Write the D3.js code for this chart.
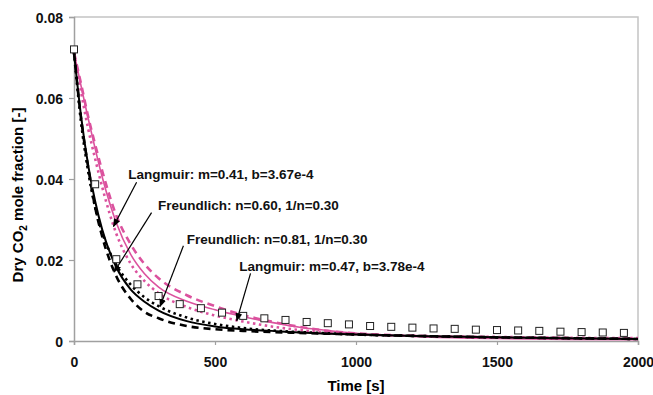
<!DOCTYPE html>
<html>
<head>
<meta charset="utf-8">
<script src="https://cdn.jsdelivr.net/npm/d3@7"></script>
<style>
  body { margin: 0; background: #fff; }
  text { font-family: "Liberation Sans", Arial, sans-serif; font-weight: bold; }
</style>
</head>
<body>
<div id="chart"></div>
<script>
// measured CO2 mole fraction (squares)
var expTime = [0, 75, 150, 225, 300, 375, 450, 525, 600, 675, 750, 825, 900, 975, 1050,
               1125, 1200, 1275, 1350, 1425, 1500, 1575, 1650, 1725, 1800, 1875, 1950]
var expCO2 = [0.0720, 0.0387, 0.0202, 0.0140, 0.0111, 0.0091, 0.0081, 0.0070, 0.0062, 0.0056,
              0.0052, 0.0047, 0.0044, 0.0041, 0.0037, 0.0035, 0.0033, 0.0031, 0.0030, 0.0028,
              0.0027, 0.0026, 0.0025, 0.0023, 0.0022, 0.0021, 0.0020]

// model curves
var modelTime = [0, 25, 50, 75, 100, 150, 200, 250, 300, 400, 500, 600, 700, 800, 900, 1000, 1250, 1500, 1750, 2000]
var blackSolid = [0.0712, 0.0555, 0.0435, 0.0345, 0.0275, 0.0182, 0.0128, 0.0097, 0.0075, 0.0049, 0.0036, 0.0029, 0.0025, 0.0021, 0.0018, 0.0016, 0.0012, 0.0009, 0.0007, 0.0005]
var blackDot   = [0.0712, 0.0540, 0.0420, 0.0330, 0.0268, 0.0188, 0.0140, 0.0108, 0.0086, 0.0058, 0.0042, 0.0032, 0.0026, 0.0022, 0.0019, 0.0016, 0.0012, 0.0009, 0.0007, 0.0005]
var blackDash  = [0.0712, 0.0550, 0.0430, 0.0330, 0.0258, 0.0160, 0.0105, 0.0072, 0.0056, 0.0037, 0.0029, 0.0025, 0.0022, 0.0020, 0.0018, 0.0016, 0.0012, 0.0009, 0.0007, 0.0005]
var pinkSolid  = [0.0712, 0.0630, 0.0550, 0.0475, 0.0405, 0.0292, 0.0215, 0.0166, 0.0133, 0.0098, 0.0077, 0.0060, 0.0046, 0.0034, 0.0026, 0.0019, 0.0010, 0.0006, 0.0004, 0.0003]
var pinkDot    = [0.0712, 0.0615, 0.0525, 0.0450, 0.0380, 0.0265, 0.0192, 0.0148, 0.0118, 0.0084, 0.0063, 0.0048, 0.0036, 0.0027, 0.0021, 0.0017, 0.0012, 0.0010, 0.0008, 0.0007]
var pinkDash   = [0.0712, 0.0635, 0.0555, 0.0485, 0.0420, 0.0310, 0.0240, 0.0190, 0.0155, 0.0113, 0.0086, 0.0064, 0.0048, 0.0035, 0.0025, 0.0019, 0.0012, 0.0009, 0.0007, 0.0006]

var xTicks = [0, 500, 1000, 1500, 2000]
var yTicks = [0, 0.02, 0.04, 0.06, 0.08]

// label text and arrow ends, in data units
var labels = [
  {text: "Langmuir: m=0.41, b=3.67e-4",   t: 192, c: 0.0400, from: [222, 0.0392], to: [140, 0.0283]},
  {text: "Freundlich: n=0.60, 1/n=0.30",  t: 298, c: 0.0324, from: [275, 0.0317], to: [142, 0.0170]},
  {text: "Freundlich: n=0.81, 1/n=0.30",  t: 400, c: 0.0240, from: [388, 0.0235], to: [305, 0.0085]},
  {text: "Langmuir: m=0.47, b=3.78e-4",   t: 586, c: 0.0173, from: [626, 0.0167], to: [577, 0.0050]}
]

var width = 653,
    height = 395
var margin = {top: 17, right: 15, bottom: 54, left: 74}
var pink = "#db529e"

var svg = d3.select("#chart")
  .append("svg")
    .attr("width", width)
    .attr("height", height)

var x = d3.scaleLinear().domain([0, 2000]).range([margin.left, width - margin.right])
var y = d3.scaleLinear().domain([0, 0.08]).range([height - margin.bottom, margin.top])

// plot frame
svg.append("path")
  .attr("d", "M" + x(0) + "," + y(0.08) + "H" + x(2000) + "V" + y(0))
  .attr("fill", "none")
  .attr("stroke", "#c4c4c4")
  .attr("stroke-width", 1.5)

var xAxis = svg.append("g")
  .attr("transform", "translate(0," + y(0) + ")")
  .call(d3.axisBottom(x).tickValues(xTicks).tickSize(4).tickPadding(12).tickFormat(d3.format("d")))
var yAxis = svg.append("g")
  .attr("transform", "translate(" + x(0) + ",0)")
  .call(d3.axisLeft(y).tickValues(yTicks).tickSize(5).tickPadding(6).tickFormat(function(d) { return d === 0 ? "0" : d3.format(".2f")(d) }))

svg.selectAll(".domain").attr("stroke", "#a0a0a0").attr("stroke-width", 1.5)
svg.selectAll(".tick line").attr("stroke", "#a0a0a0").attr("stroke-width", 1.2)
svg.selectAll(".tick text")
  .attr("fill", "#111")
  .style("font-size", "14px")
  .style("font-family", "'Liberation Sans', Arial, sans-serif")
  .style("font-weight", "bold")
yAxis.selectAll(".tick text").attr("dy", "0.36em")

// axis titles
svg.append("text")
  .attr("x", (x(0) + x(2000)) / 2)
  .attr("y", 391)
  .attr("text-anchor", "middle")
  .style("font-size", "15px")
  .text("Time [s]")

var yTitle = svg.append("text")
  .attr("transform", "translate(23," + 195 + ") rotate(-90)")
  .attr("text-anchor", "middle")
  .style("font-size", "15px")
yTitle.append("tspan").text("Dry CO")
yTitle.append("tspan").attr("dy", 4).style("font-size", "10px").text("2")
yTitle.append("tspan").attr("dy", -4).text(" mole fraction [-]")

// model curves
var series = [
  {vals: pinkDot,    color: pink,   w: 2.6, dash: "2.5,3.5"},
  {vals: pinkDash,   color: pink,   w: 2.6, dash: "7,5"},
  {vals: pinkSolid,  color: pink,   w: 1.6, dash: null},
  {vals: blackDot,   color: "#000", w: 2.6, dash: "2.5,3.5"},
  {vals: blackDash,  color: "#000", w: 2.6, dash: "7,5"},
  {vals: blackSolid, color: "#000", w: 2.0, dash: null}
]

var line = d3.line()
  .x(function(d) { return x(d[0]) })
  .y(function(d) { return y(d[1]) })
  .curve(d3.curveMonotoneX)

svg.selectAll(".model")
  .data(series)
  .enter()
  .append("path")
  .attr("class", "model")
  .attr("d", function(s) { return line(d3.zip(modelTime, s.vals)) })
  .attr("fill", "none")
  .attr("stroke", function(s) { return s.color })
  .attr("stroke-width", function(s) { return s.w })
  .attr("stroke-dasharray", function(s) { return s.dash })

// measured squares
svg.selectAll(".pt")
  .data(d3.zip(expTime, expCO2))
  .enter()
  .append("rect")
  .attr("class", "pt")
  .attr("x", function(d) { return x(d[0]) - 3.5 })
  .attr("y", function(d) { return y(d[1]) - 3.5 })
  .attr("width", 7)
  .attr("height", 7)
  .attr("fill", "#fff")
  .attr("stroke", "#222")
  .attr("stroke-width", 1)

// annotations
svg.append("defs").append("marker")
  .attr("id", "head")
  .attr("viewBox", "0 0 10 10")
  .attr("refX", 9).attr("refY", 5)
  .attr("markerWidth", 7).attr("markerHeight", 7)
  .attr("orient", "auto")
  .append("path")
  .attr("d", "M0,1L10,5L0,9z")
  .attr("fill", "#000")

svg.selectAll(".arrow")
  .data(labels)
  .enter()
  .append("line")
  .attr("class", "arrow")
  .attr("x1", function(d) { return x(d.from[0]) })
  .attr("y1", function(d) { return y(d.from[1]) })
  .attr("x2", function(d) { return x(d.to[0]) })
  .attr("y2", function(d) { return y(d.to[1]) })
  .attr("stroke", "#000")
  .attr("stroke-width", 1.2)
  .attr("marker-end", "url(#head)")

svg.selectAll(".lbl")
  .data(labels)
  .enter()
  .append("text")
  .attr("class", "lbl")
  .attr("x", function(d) { return x(d.t) })
  .attr("y", function(d) { return y(d.c) })
  .style("font-size", "13.5px")
  .attr("fill", "#111")
  .text(function(d) { return d.text })
</script>
</body>
</html>
